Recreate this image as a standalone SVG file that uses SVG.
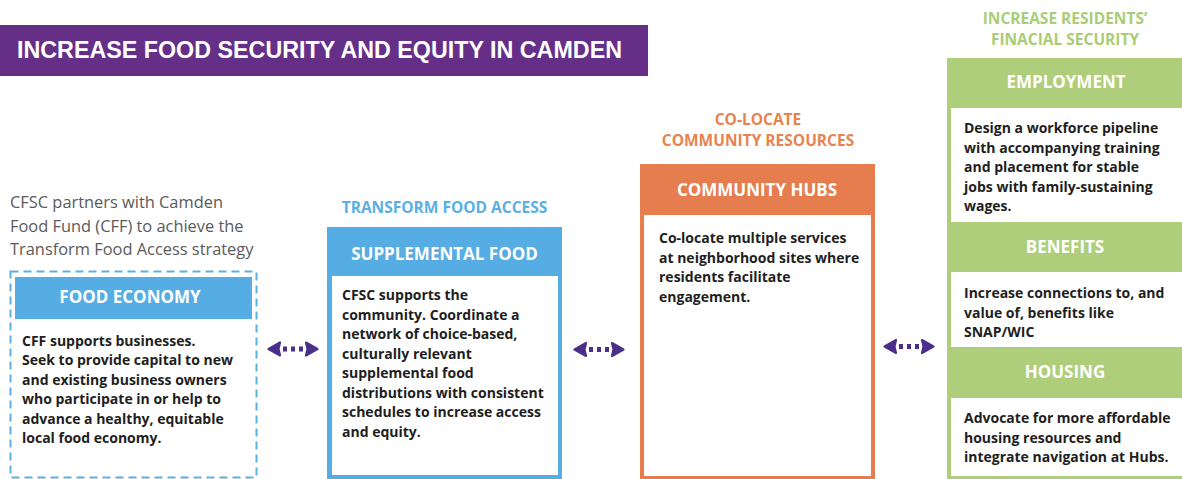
<svg xmlns="http://www.w3.org/2000/svg" width="1182" height="479" viewBox="0 0 1182 479">
<style>
.title{font-family:"Liberation Sans",Arial,sans-serif;font-weight:bold;font-size:23px;fill:#ffffff}
.intro{font-family:"Open Sans","Noto Sans",sans-serif;font-size:16.4px;fill:#5a5a5a}
.cat{font-family:"Open Sans","Noto Sans",sans-serif;font-weight:bold;font-size:15.5px;text-anchor:middle}
.hdr{font-family:"Open Sans","Noto Sans",sans-serif;font-weight:bold;font-size:17px;fill:#ffffff;text-anchor:middle}
.body{font-family:"Open Sans","Noto Sans",sans-serif;font-weight:bold;font-size:14px;fill:#1e1e1e}
.blue{fill:#55ade3}
.orange{fill:#e57d4f}
.green{fill:#afce7b}
.white{fill:#ffffff}
.conn{stroke:#4b2f8b;stroke-width:5;stroke-dasharray:4 4;stroke-dashoffset:5;fill:none}
</style>
<defs>
<marker id="ah" markerWidth="16" markerHeight="18" refX="2" refY="9" orient="auto-start-reverse" markerUnits="userSpaceOnUse" viewBox="0 0 16 18">
<path d="M2,2.5 L13.5,9 L2,15.5 L3.5,9 Z" fill="#4b2f8b" stroke="#4b2f8b" stroke-width="2.2" stroke-linejoin="round"/>
</marker>
</defs>

<g id="title">
<rect x="0" y="25" width="648" height="51" fill="#652f87"/>
<text class="title" x="17" y="58" textLength="605" lengthAdjust="spacingAndGlyphs">INCREASE FOOD SECURITY AND EQUITY IN CAMDEN</text>
</g>

<g id="intro">
<text class="intro" x="10" y="208">CFSC partners with Camden</text>
<text class="intro" x="10" y="231.5">Food Fund (CFF) to achieve the</text>
<text class="intro" x="10" y="255">Transform Food Access strategy</text>
</g>

<g id="food-economy">
<rect x="10.5" y="271.5" width="246" height="206" fill="none" stroke="#5aafe3" stroke-width="2" stroke-dasharray="8 5"/>
<rect class="blue" x="15" y="277" width="237" height="42"/>
<text class="hdr" x="130" y="303">FOOD ECONOMY</text>
<text class="body" x="22" y="345.5">CFF supports businesses.</text>
<text class="body" x="22" y="365">Seek to provide capital to new</text>
<text class="body" x="22" y="384.5">and existing business owners</text>
<text class="body" x="22" y="404">who participate in or help to</text>
<text class="body" x="22" y="423.5">advance a healthy, equitable</text>
<text class="body" x="22" y="443">local food economy.</text>
</g>

<g id="supplemental-food">
<text class="cat" x="444.5" y="213" fill="#5aafe3">TRANSFORM FOOD ACCESS</text>
<rect class="blue" x="327" y="227" width="235" height="252"/>
<rect class="white" x="332" y="276" width="226" height="199"/>
<text class="hdr" x="444.5" y="259.5">SUPPLEMENTAL FOOD</text>
<text class="body" x="342" y="300">CFSC supports the</text>
<text class="body" x="342" y="319.5">community. Coordinate a</text>
<text class="body" x="342" y="339">network of choice-based,</text>
<text class="body" x="342" y="358.5">culturally relevant</text>
<text class="body" x="342" y="378">supplemental food</text>
<text class="body" x="342" y="397.5">distributions with consistent</text>
<text class="body" x="342" y="417">schedules to increase access</text>
<text class="body" x="342" y="436.5">and equity.</text>
</g>

<g id="community-hubs">
<text class="cat" x="758" y="125" fill="#e8834f">CO-LOCATE</text>
<text class="cat" x="758" y="146" fill="#e8834f">COMMUNITY RESOURCES</text>
<rect class="orange" x="640" y="164" width="235" height="315"/>
<rect class="white" x="644" y="215" width="227" height="261"/>
<text class="hdr" x="757" y="196">COMMUNITY HUBS</text>
<text class="body" x="659" y="243">Co-locate multiple services</text>
<text class="body" x="659" y="262.5">at neighborhood sites where</text>
<text class="body" x="659" y="282">residents facilitate</text>
<text class="body" x="659" y="301.5">engagement.</text>
</g>

<g id="financial-security">
<text class="cat" x="1065" y="23.5" fill="#a9cd76">INCREASE RESIDENTS’</text>
<text class="cat" x="1065" y="44.5" fill="#a9cd76">FINACIAL SECURITY</text>
<rect class="green" x="947" y="58" width="240" height="421"/>
</g>

<g id="employment">
<text class="hdr" x="1066" y="88">EMPLOYMENT</text>
<rect class="white" x="951" y="108" width="240" height="114"/>
<text class="body" x="964" y="133">Design a workforce pipeline</text>
<text class="body" x="964" y="152.5">with accompanying training</text>
<text class="body" x="964" y="172">and placement for stable</text>
<text class="body" x="964" y="191.5">jobs with family-sustaining</text>
<text class="body" x="964" y="211">wages.</text>
</g>

<g id="benefits">
<text class="hdr" x="1065" y="253">BENEFITS</text>
<rect class="white" x="951" y="272" width="240" height="75"/>
<text class="body" x="964" y="298">Increase connections to, and</text>
<text class="body" x="964" y="317.5">value of, benefits like</text>
<text class="body" x="964" y="337">SNAP/WIC</text>
</g>

<g id="housing">
<text class="hdr" x="1065" y="378">HOUSING</text>
<rect class="white" x="951" y="398" width="240" height="78"/>
<text class="body" x="964" y="423">Advocate for more affordable</text>
<text class="body" x="964" y="442.5">housing resources and</text>
<text class="body" x="964" y="462">integrate navigation at Hubs.</text>
</g>

<g id="connectors">
<line class="conn" x1="280" y1="349" x2="306" y2="349" marker-start="url(#ah)" marker-end="url(#ah)"/>
<line class="conn" x1="586" y1="349.5" x2="612" y2="349.5" marker-start="url(#ah)" marker-end="url(#ah)"/>
<line class="conn" x1="896" y1="346.5" x2="922" y2="346.5" marker-start="url(#ah)" marker-end="url(#ah)"/>
</g>
</svg>
